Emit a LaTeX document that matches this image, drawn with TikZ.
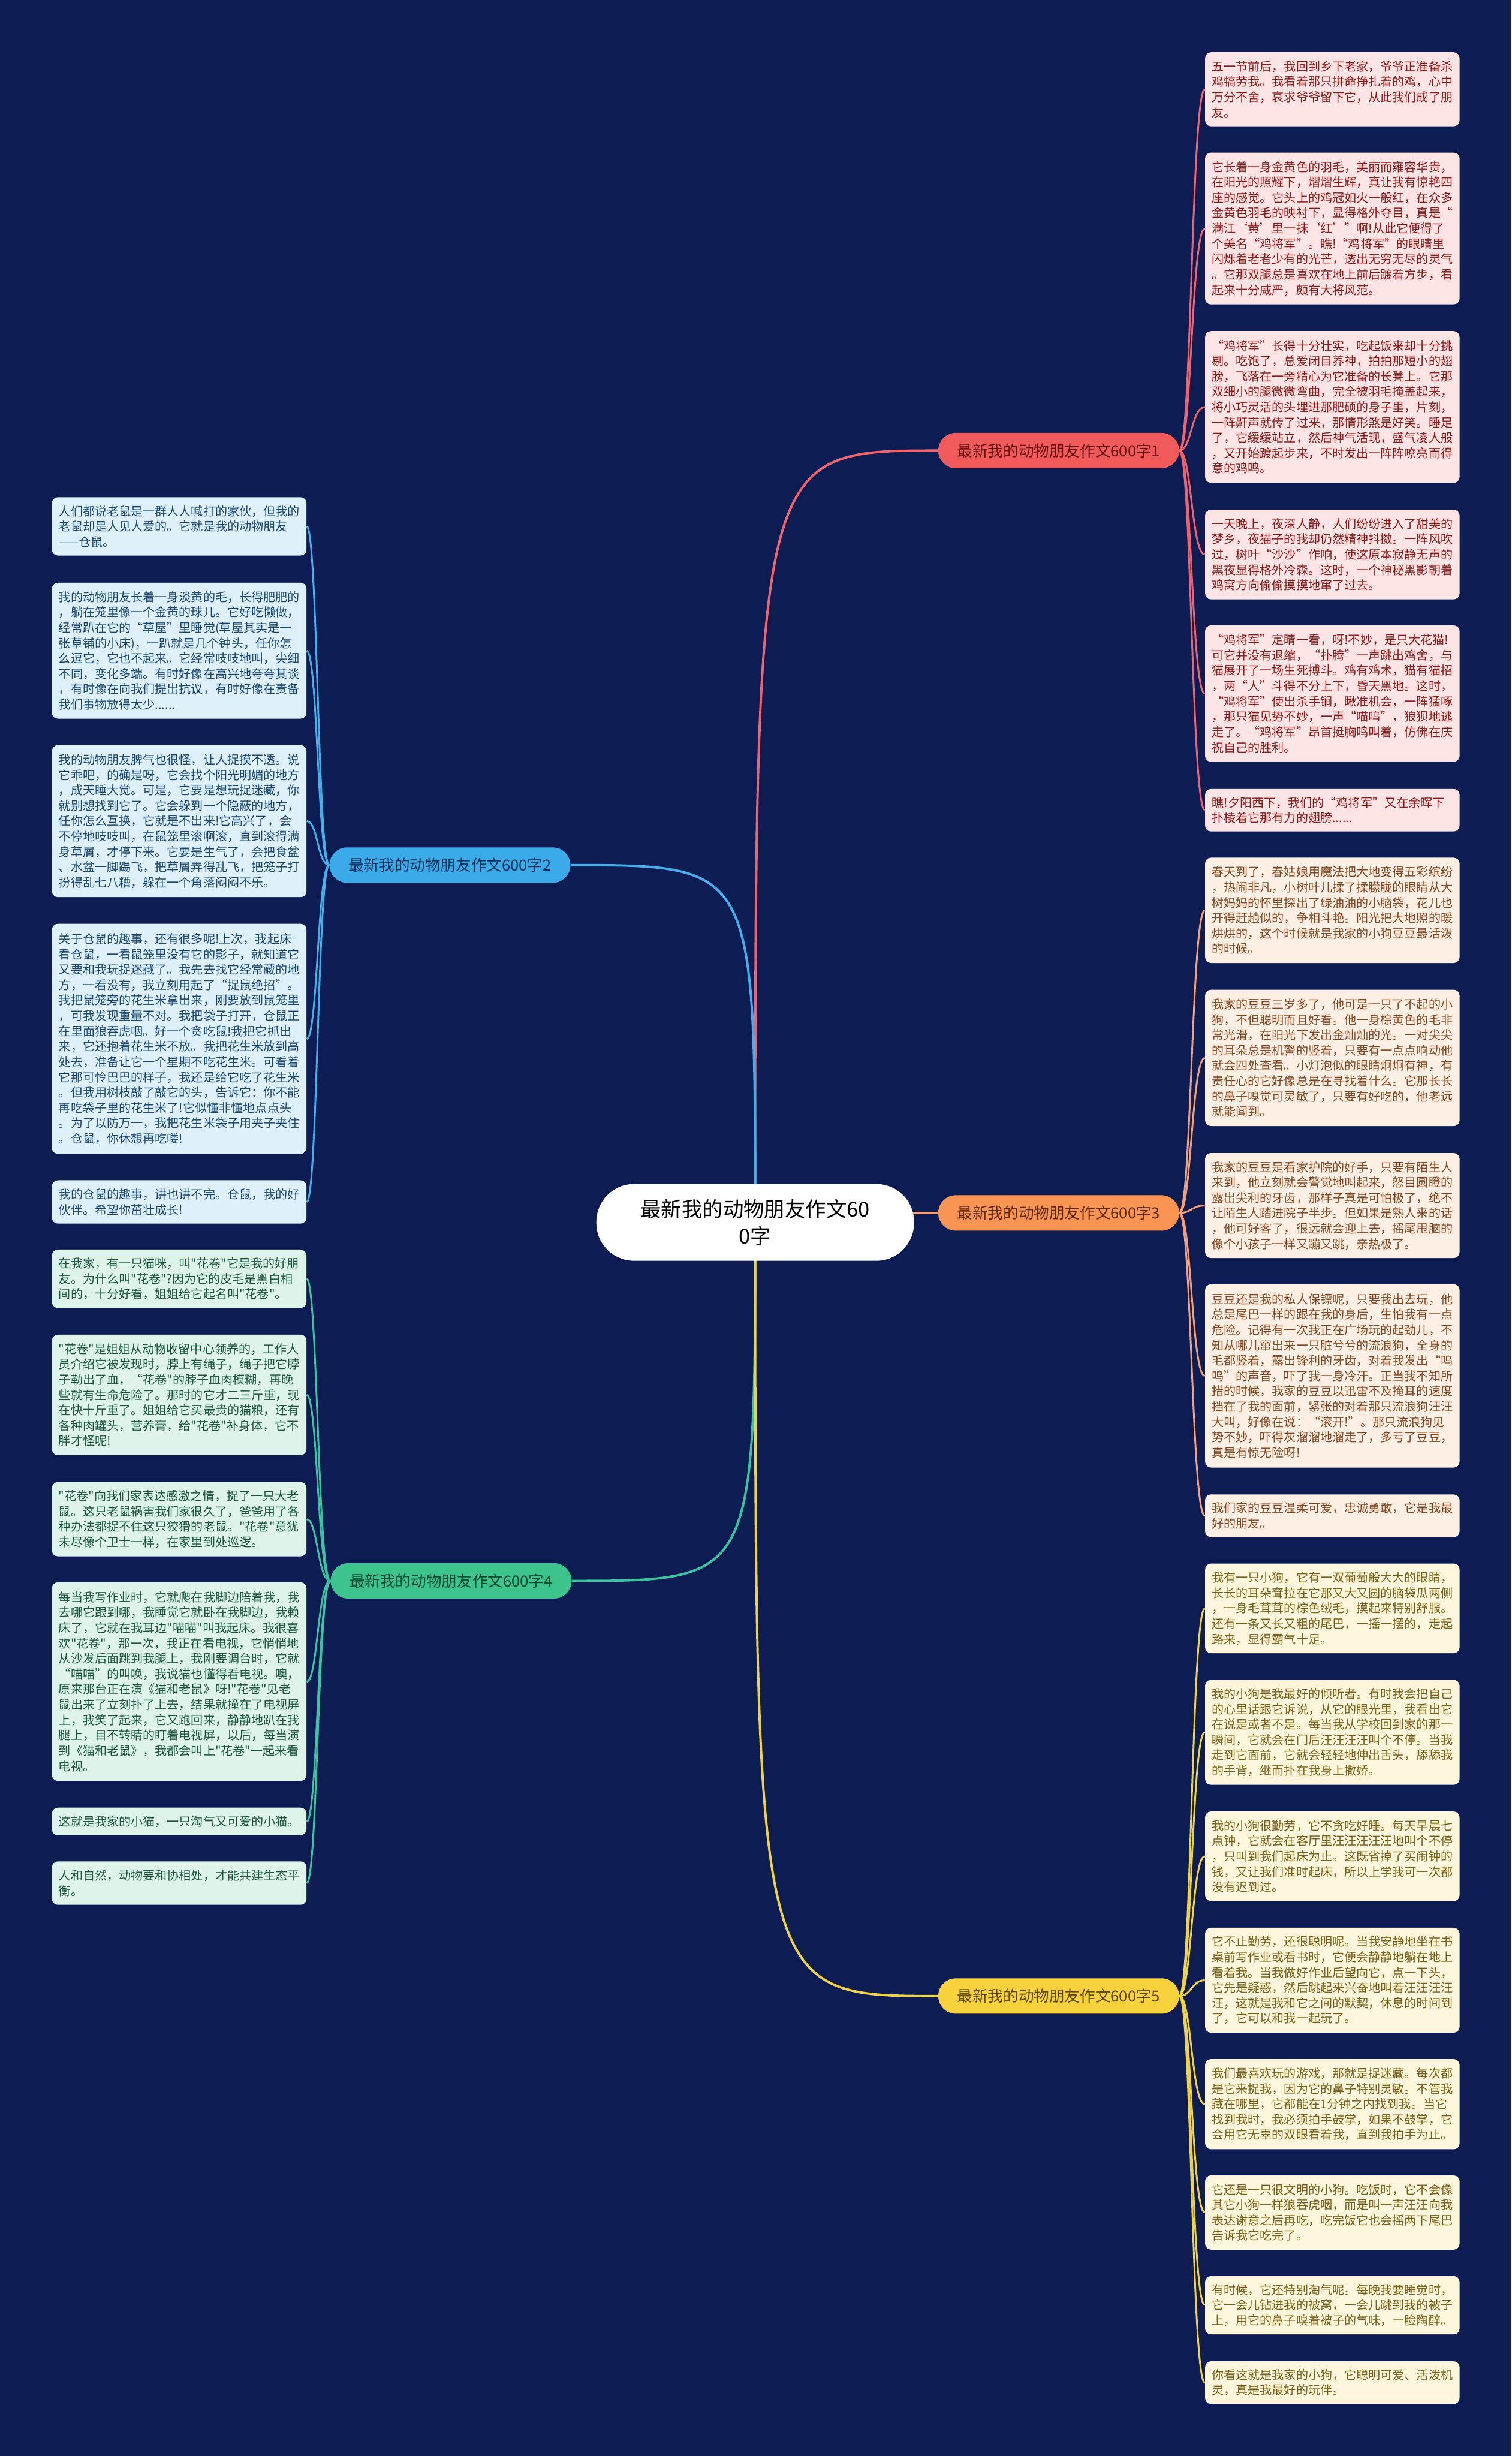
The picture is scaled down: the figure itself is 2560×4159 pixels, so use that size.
\documentclass[tikz,border=0pt]{standalone}
\usepackage{fontspec}
\setmainfont{Noto Sans CJK SC}[Ligatures=TeXOff]
\usetikzlibrary{backgrounds}
\definecolor{bg}{RGB}{13,29,84}
\definecolor{b1}{RGB}{241,90,90}\definecolor{bt1}{RGB}{100,15,15}
\definecolor{b2}{RGB}{58,170,232}\definecolor{bt2}{RGB}{15,50,90}
\definecolor{b3}{RGB}{250,148,82}\definecolor{bt3}{RGB}{90,40,10}
\definecolor{b4}{RGB}{60,196,140}\definecolor{bt4}{RGB}{10,70,50}
\definecolor{b5}{RGB}{248,210,60}\definecolor{bt5}{RGB}{90,70,10}
\definecolor{k1}{RGB}{241,100,110}\definecolor{k2}{RGB}{70,175,235}
\definecolor{k3}{RGB}{245,160,120}\definecolor{k4}{RGB}{60,195,160}
\definecolor{k5}{RGB}{240,210,70}
\definecolor{f1}{RGB}{253,228,228}\definecolor{t1}{RGB}{140,25,25}
\definecolor{f2}{RGB}{222,241,251}\definecolor{t2}{RGB}{25,70,110}
\definecolor{f3}{RGB}{253,239,228}\definecolor{t3}{RGB}{130,70,30}
\definecolor{f4}{RGB}{222,243,234}\definecolor{t4}{RGB}{25,85,65}
\definecolor{f5}{RGB}{253,246,220}\definecolor{t5}{RGB}{120,95,20}
\begin{document}
\begin{tikzpicture}[x=0.5pt,y=-0.5pt,
  leaf/.style={rounded corners=5pt, inner xsep=5.75pt, inner ysep=0pt, text width=204pt, align=left, font=\fontsize{10.2}{13}\selectfont, anchor=center},
  hh/.style={minimum height=#1*0.5pt},
  lf1/.style={leaf, fill=f1, text=t1},
  lf2/.style={leaf, fill=f2, text=t2},
  lf3/.style={leaf, fill=f3, text=t3},
  lf4/.style={leaf, fill=f4, text=t4},
  lf5/.style={leaf, fill=f5, text=t5},
  br/.style={rounded corners=14.9pt, minimum width=204pt, minimum height=30pt, inner sep=0pt, font=\fontsize{13}{15}\selectfont},
  root/.style={fill=white, text=black, rounded corners=32pt, minimum width=269pt, minimum height=65pt, inner sep=0pt, align=center, font=\fontsize{17.5}{22.5}\selectfont},
  mainln/.style={line width=2pt},
  subln/.style={line width=1.5pt}
]
\useasboundingbox (0,0) rectangle (2560,4159);

% root and branches
\node[root] (c) at (1279,2070) {最新我的动物朋友作文60\\0字};
\node[br, fill=b1, text=bt1] (n1) at (1793,763) {最新我的动物朋友作文600字1};
\node[br, fill=b2, text=bt2] (n2) at (762,1465) {最新我的动物朋友作文600字2};
\node[br, fill=b3, text=bt3] (n3) at (1793,2054) {最新我的动物朋友作文600字3};
\node[br, fill=b4, text=bt4] (n4) at (764,2677) {最新我的动物朋友作文600字4};
\node[br, fill=b5, text=bt5] (n5) at (1793,3380) {最新我的动物朋友作文600字5};

% branch 1 leaves
\node[lf1,hh=125.3] (r1) at (2256.5,151.2) {五一节前后，我回到乡下老家，爷爷正准备杀\\鸡犒劳我。我看着那只拼命挣扎着的鸡，心中\\万分不舍，哀求爷爷留下它，从此我们成了朋\\友。};
\node[lf1,hh=257.1] (r2) at (2256.5,387.0) {它长着一身金黄色的羽毛，美丽而雍容华贵，\\在阳光的照耀下，熠熠生辉，真让我有惊艳四\\座的感觉。它头上的鸡冠如火一般红，在众多\\金黄色羽毛的映衬下，显得格外夺目，真是“\\满江‘黄’里一抹‘红’”啊!从此它便得了\\个美名“鸡将军”。瞧!“鸡将军”的眼睛里\\闪烁着老者少有的光芒，透出无穷无尽的灵气\\。它那双腿总是喜欢在地上前后踱着方步，看\\起来十分威严，颇有大将风范。};
\node[lf1,hh=257] (r3) at (2256.5,689.2) {“鸡将军”长得十分壮实，吃起饭来却十分挑\\剔。吃饱了，总爱闭目养神，拍拍那短小的翅\\膀，飞落在一旁精心为它准备的长凳上。它那\\双细小的腿微微弯曲，完全被羽毛掩盖起来，\\将小巧灵活的头埋进那肥硕的身子里，片刻，\\一阵鼾声就传了过来，那情形煞是好笑。睡足\\了，它缓缓站立，然后神气活现，盛气凌人般\\，又开始踱起步来，不时发出一阵阵嘹亮而得\\意的鸡鸣。};
\node[lf1,hh=151.8] (r4) at (2256.5,939.1) {一天晚上，夜深人静，人们纷纷进入了甜美的\\梦乡，夜猫子的我却仍然精神抖擞。一阵风吹\\过，树叶“沙沙”作响，使这原本寂静无声的\\黑夜显得格外冷森。这时，一个神秘黑影朝着\\鸡窝方向偷偷摸摸地窜了过去。};
\node[lf1,hh=231] (r5) at (2256.5,1174.5) {“鸡将军”定睛一看，呀!不妙，是只大花猫!\\可它并没有退缩，“扑腾”一声跳出鸡舍，与\\猫展开了一场生死搏斗。鸡有鸡术，猫有猫招\\，两“人”斗得不分上下，昏天黑地。这时，\\“鸡将军”使出杀手锏，瞅准机会，一阵猛啄\\，那只猫见势不妙，一声“喵呜”，狼狈地逃\\走了。“鸡将军”昂首挺胸鸣叫着，仿佛在庆\\祝自己的胜利。};
\node[lf1,hh=72] (r6) at (2256.5,1372) {瞧!夕阳西下，我们的“鸡将军”又在余晖下\\扑棱着它那有力的翅膀......};

% branch 3 leaves
\node[lf3,hh=178.3] (r7) at (2256.5,1541.6) {春天到了，春姑娘用魔法把大地变得五彩缤纷\\，热闹非凡，小树叶儿揉了揉朦胧的眼睛从大\\树妈妈的怀里探出了绿油油的小脑袋，花儿也\\开得赶趟似的，争相斗艳。阳光把大地照的暖\\烘烘的，这个时候就是我家的小狗豆豆最活泼\\的时候。};
\node[lf3,hh=231.1] (r8) at (2256.5,1791.5) {我家的豆豆三岁多了，他可是一只了不起的小\\狗，不但聪明而且好看。他一身棕黄色的毛非\\常光滑，在阳光下发出金灿灿的光。一对尖尖\\的耳朵总是机警的竖着，只要有一点点响动他\\就会四处查看。小灯泡似的眼睛炯炯有神，有\\责任心的它好像总是在寻找着什么。它那长长\\的鼻子嗅觉可灵敏了，只要有好吃的，他老远\\就能闻到。};
\node[lf3,hh=177.8] (r9) at (2256.5,2041.5) {我家的豆豆是看家护院的好手，只要有陌生人\\来到，他立刻就会警觉地叫起来，怒目圆瞪的\\露出尖利的牙齿，那样子真是可怕极了，绝不\\让陌生人踏进院子半步。但如果是熟人来的话\\，他可好客了，很远就会迎上去，摇尾甩脑的\\像个小孩子一样又蹦又跳，亲热极了。};
\node[lf3,hh=310.5] (r10) at (2256.5,2329.9) {豆豆还是我的私人保镖呢，只要我出去玩，他\\总是尾巴一样的跟在我的身后，生怕我有一点\\危险。记得有一次我正在广场玩的起劲儿，不\\知从哪儿窜出来一只脏兮兮的流浪狗，全身的\\毛都竖着，露出锋利的牙齿，对着我发出“呜\\呜”的声音，吓了我一身冷汗。正当我不知所\\措的时候，我家的豆豆以迅雷不及掩耳的速度\\挡在了我的面前，紧张的对着那只流浪狗汪汪\\大叫，好像在说：“滚开!”。那只流浪狗见\\势不妙，吓得灰溜溜地溜走了，多亏了豆豆，\\真是有惊无险呀!};
\node[lf3,hh=72.4] (r11) at (2256.5,2566.8) {我们家的豆豆温柔可爱，忠诚勇敢，它是我最\\好的朋友。};

% branch 5 leaves
\node[lf5,hh=151.8] (r12) at (2256.5,2723.6) {我有一只小狗，它有一双葡萄般大大的眼睛，\\长长的耳朵耷拉在它那又大又圆的脑袋瓜两侧\\，一身毛茸茸的棕色绒毛，摸起来特别舒服。\\还有一条又长又粗的尾巴，一摇一摆的，走起\\路来，显得霸气十足。};
\node[lf5,hh=177.8] (r13) at (2256.5,2933.5) {我的小狗是我最好的倾听者。有时我会把自己\\的心里话跟它诉说，从它的眼光里，我看出它\\在说是或者不是。每当我从学校回到家的那一\\瞬间，它就会在门后汪汪汪汪叫个不停。当我\\走到它面前，它就会轻轻地伸出舌头，舔舔我\\的手背，继而扑在我身上撒娇。};
\node[lf5,hh=151.8] (r14) at (2256.5,3143.4) {我的小狗很勤劳，它不贪吃好睡。每天早晨七\\点钟，它就会在客厅里汪汪汪汪汪地叫个不停\\，只叫到我们起床为止。这既省掉了买闹钟的\\钱，又让我们准时起床，所以上学我可一次都\\没有迟到过。};
\node[lf5,hh=177.8] (r15) at (2256.5,3353.3) {它不止勤劳，还很聪明呢。当我安静地坐在书\\桌前写作业或看书时，它便会静静地躺在地上\\看着我。当我做好作业后望向它，点一下头，\\它先是疑惑，然后跳起来兴奋地叫着汪汪汪汪\\汪，这就是我和它之间的默契，休息的时间到\\了，它可以和我一起玩了。};
\node[lf5,hh=152.7] (r16) at (2256.5,3563.2) {我们最喜欢玩的游戏，那就是捉迷藏。每次都\\是它来捉我，因为它的鼻子特别灵敏。不管我\\藏在哪里，它都能在1分钟之内找到我。当它\\找到我时，我必须拍手鼓掌，如果不鼓掌，它\\会用它无辜的双眼看着我，直到我拍手为止。};
\node[lf5,hh=125.8] (r17) at (2256.5,3746.6) {它还是一只很文明的小狗。吃饭时，它不会像\\其它小狗一样狼吞虎咽，而是叫一声汪汪向我\\表达谢意之后再吃，吃完饭它也会摇两下尾巴\\告诉我它吃完了。};
\node[lf5,hh=98.9] (r18) at (2256.5,3903.6) {有时候，它还特别淘气呢。每晚我要睡觉时，\\它一会儿钻进我的被窝，一会儿跳到我的被子\\上，用它的鼻子嗅着被子的气味，一脸陶醉。};
\node[lf5,hh=72.4] (r19) at (2256.5,4034.8) {你看这就是我家的小狗，它聪明可爱、活泼机\\灵，真是我最好的玩伴。};

% branch 2 leaves
\node[lf2,hh=98.8] (l1) at (303.5,891.4) {人们都说老鼠是一群人人喊打的家伙，但我的\\老鼠却是人见人爱的。它就是我的动物朋友\\——仓鼠。};
\node[lf2,hh=230.2] (l2) at (303.5,1101.9) {我的动物朋友长着一身淡黄的毛，长得肥肥的\\，躺在笼里像一个金黄的球儿。它好吃懒做，\\经常趴在它的“草屋”里睡觉(草屋其实是一\\张草铺的小床)，一趴就是几个钟头，任你怎\\么逗它，它也不起来。它经常吱吱地叫，尖细\\不同，变化多端。有时好像在高兴地夸夸其谈\\，有时像在向我们提出抗议，有时好像在责备\\我们事物放得太少......};
\node[lf2,hh=257.4] (l3) at (303.5,1390.5) {我的动物朋友脾气也很怪，让人捉摸不透。说\\它乖吧，的确是呀，它会找个阳光明媚的地方\\，成天睡大觉。可是，它要是想玩捉迷藏，你\\就别想找到它了。它会躲到一个隐蔽的地方，\\任你怎么互换，它就是不出来!它高兴了，会\\不停地吱吱叫，在鼠笼里滚啊滚，直到滚得满\\身草屑，才停下来。它要是生气了，会把食盆\\、水盆一脚踢飞，把草屑弄得乱飞，把笼子打\\扮得乱七八糟，躲在一个角落闷闷不乐。};
\node[lf2,hh=389.6] (l4) at (303.5,1759.2) {关于仓鼠的趣事，还有很多呢!上次，我起床\\看仓鼠，一看鼠笼里没有它的影子，就知道它\\又要和我玩捉迷藏了。我先去找它经常藏的地\\方，一看没有，我立刻用起了“捉鼠绝招”。\\我把鼠笼旁的花生米拿出来，刚要放到鼠笼里\\，可我发现重量不对。我把袋子打开，仓鼠正\\在里面狼吞虎咽。好一个贪吃鼠!我把它抓出\\来，它还抱着花生米不放。我把花生米放到高\\处去，准备让它一个星期不吃花生米。可看着\\它那可怜巴巴的样子，我还是给它吃了花生米\\。但我用树枝敲了敲它的头，告诉它：你不能\\再吃袋子里的花生米了!它似懂非懂地点点头\\。为了以防万一，我把花生米袋子用夹子夹住\\。仓鼠，你休想再吃喽!};
\node[lf2,hh=73.3] (l5) at (303.5,2035.4) {我的仓鼠的趣事，讲也讲不完。仓鼠，我的好\\伙伴。希望你茁壮成长!};

% branch 4 leaves
\node[lf4,hh=98.8] (l6) at (303.5,2165.4) {在我家，有一只猫咪，叫"花卷"它是我的好朋\\友。为什么叫"花卷"?因为它的皮毛是黑白相\\间的，十分好看，姐姐给它起名叫"花卷"。};
\node[lf4,hh=204.2] (l7) at (303.5,2362.1) {"花卷"是姐姐从动物收留中心领养的，工作人\\员介绍它被发现时，脖上有绳子，绳子把它脖\\子勒出了血，“花卷"的脖子血肉模糊，再晚\\些就有生命危险了。那时的它才二三斤重，现\\在快十斤重了。姐姐给它买最贵的猫粮，还有\\各种肉罐头，营养膏，给"花卷"补身体，它不\\胖才怪呢!};
\node[lf4,hh=125.7] (l8) at (303.5,2572.6) {"花卷"向我们家表达感激之情，捉了一只大老\\鼠。这只老鼠祸害我们家很久了，爸爸用了各\\种办法都捉不住这只狡猾的老鼠。"花卷"意犹\\未尽像个卫士一样，在家里到处巡逻。};
\node[lf4,hh=336.4] (l9) at (303.5,2847.6) {每当我写作业时，它就爬在我脚边陪着我，我\\去哪它跟到哪，我睡觉它就卧在我脚边，我赖\\床了，它就在我耳边"喵喵"叫我起床。我很喜\\欢"花卷"，那一次，我正在看电视，它悄悄地\\从沙发后面跳到我腿上，我刚要调台时，它就\\“喵喵”的叫唤，我说猫也懂得看电视。噢，\\原来那台正在演《猫和老鼠》呀!"花卷"见老\\鼠出来了立刻扑了上去，结果就撞在了电视屏\\上，我笑了起来，它又跑回来，静静地趴在我\\腿上，目不转睛的盯着电视屏，以后，每当演\\到《猫和老鼠》，我都会叫上"花卷"一起来看\\电视。};
\node[lf4,hh=46.7] (l10) at (303.5,3084.4) {这就是我家的小猫，一只淘气又可爱的小猫。};
\node[lf4,hh=73.5] (l11) at (303.5,3188.8) {人和自然，动物要和协相处，才能共建生态平\\衡。};

% vertical guide coordinates for leaf connectors
\coordinate (v1) at (2018,0);
\coordinate (v2) at (538,0);

\begin{scope}[on background layer]
\fill[bg] (0,0) rectangle (2560,4159);
% main connectors
\draw[mainln, k1] (c.center) .. controls (c.center |- n1.west) .. (n1.west);
\draw[mainln, k2] (c.center) .. controls (c.center |- n2.east) .. (n2.east);
\draw[mainln, k3] (c.center |- n3.west) -- (n3.west);
\draw[mainln, k4] (c.center) .. controls (c.center |- n4.east) .. (n4.east);
\draw[mainln, k5] (c.center) .. controls (c.center |- n5.west) .. (n5.west);
% leaf connectors
\foreach \i in {1,...,6}
  \draw[subln, k1] (n1.east) .. controls (v1 |- n1.east) and (v1 |- r\i.west) .. (r\i.west);
\foreach \i in {7,...,11}
  \draw[subln, k3] (n3.east) .. controls (v1 |- n3.east) and (v1 |- r\i.west) .. (r\i.west);
\foreach \i in {12,...,19}
  \draw[subln, k5] (n5.east) .. controls (v1 |- n5.east) and (v1 |- r\i.west) .. (r\i.west);
\foreach \i in {1,...,5}
  \draw[subln, k2] (n2.west) .. controls (v2 |- n2.west) and (v2 |- l\i.east) .. (l\i.east);
\foreach \i in {6,...,11}
  \draw[subln, k4] (n4.west) .. controls (v2 |- n4.west) and (v2 |- l\i.east) .. (l\i.east);
\end{scope}
\end{tikzpicture}
\end{document}
